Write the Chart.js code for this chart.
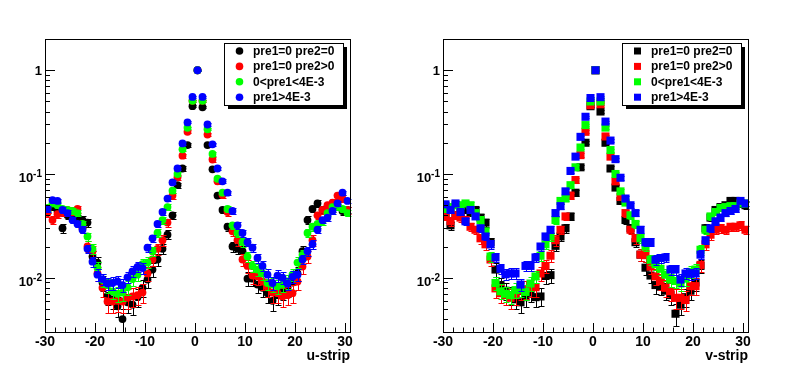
<!DOCTYPE html>
<html>
<head>
<meta charset="utf-8">
<script src="https://cdn.jsdelivr.net/npm/chart.js@4"></script>
<style>
  html, body { margin: 0; padding: 0; background: #fff; }
  #wrap { position: relative; width: 796px; height: 374px; }
  canvas { position: absolute; top: 0; }
</style>
</head>
<body>
<div id="wrap">
  <canvas id="uChart" width="398" height="374" style="left:0"></canvas>
  <canvas id="vChart" width="398" height="374" style="left:398px"></canvas>
</div>
<script>
// bin centres (strip number)
const strips = [
  -29.5, -28.5, -27.5, -26.5, -25.5, -24.5, -23.5, -22.5, -21.5, -20.5,
  -19.5, -18.5, -17.5, -16.5, -15.5, -14.5, -13.5, -12.5, -11.5, -10.5,
  -9.5, -8.5, -7.5, -6.5, -5.5, -4.5, -3.5, -2.5, -1.5, -0.5,
  0.5,
  1.5, 2.5, 3.5, 4.5, 5.5, 6.5, 7.5, 8.5, 9.5, 10.5,
  11.5, 12.5, 13.5, 14.5, 15.5, 16.5, 17.5, 18.5, 19.5, 20.5,
  21.5, 22.5, 23.5, 24.5, 25.5, 26.5, 27.5, 28.5, 29.5, 30.5
];

const seriesNames = ["pre1=0 pre2=0", "pre1=0 pre2>0", "0<pre1<4E-3", "pre1>4E-3"];
const seriesColors = ["#000000", "#ff0000", "#00ff00", "#0000ff"];
// rough counts behind each normalised histogram, used for the stat error bars
const peakCounts = [4000, 3500, 5000, 6000];

// u-strip
const uBlack = [
  0.045, 0.048, 0.044, 0.030, 0.040, 0.038, 0.037, 0.036, 0.034, 0.016,
  0.014, 0.009, 0.0067, 0.0062, 0.0053, 0.0040, 0.0058, 0.0055, 0.0065, 0.0080,
  0.0096, 0.012, 0.015, 0.019, 0.026, 0.040, 0.078, 0.113, 0.19, 0.45,
  1.0,
  0.44, 0.19, 0.111, 0.062, 0.045, 0.031, 0.020, 0.019, 0.018, 0.0098,
  0.0098, 0.0086, 0.0080, 0.0071, 0.0060, 0.0068, 0.0075, 0.0080, 0.0090, 0.011,
  0.018, 0.036, 0.046, 0.052, 0.045, 0.048, 0.046, 0.050, 0.044, 0.045
];
const uRed = [
  0.042, 0.036, 0.041, 0.043, 0.045, 0.044, 0.046, 0.030, 0.020, 0.018,
  0.011, 0.008, 0.0059, 0.0059, 0.0060, 0.0059, 0.0064, 0.0066, 0.0068, 0.0072,
  0.011, 0.015, 0.019, 0.023, 0.034, 0.062, 0.093, 0.15, 0.255, 0.507,
  1.0,
  0.507, 0.24, 0.138, 0.085, 0.063, 0.043, 0.028, 0.023, 0.015, 0.013,
  0.0105, 0.0103, 0.0092, 0.0081, 0.0072, 0.0071, 0.0066, 0.0068, 0.0071, 0.0092,
  0.0128, 0.016, 0.023, 0.040, 0.045, 0.050, 0.053, 0.062, 0.058, 0.045
];
const uGreen = [
  0.047, 0.052, 0.050, 0.046, 0.045, 0.044, 0.042, 0.033, 0.025, 0.019,
  0.0125, 0.0095, 0.0085, 0.0074, 0.0070, 0.0072, 0.0081, 0.0097, 0.0107, 0.0135,
  0.014, 0.018, 0.027, 0.036, 0.048, 0.069, 0.10, 0.173, 0.279, 0.507,
  1.0,
  0.507, 0.27, 0.156, 0.090, 0.066, 0.046, 0.032, 0.027, 0.022, 0.016,
  0.013, 0.012, 0.011, 0.0089, 0.0086, 0.0083, 0.0086, 0.0092, 0.0107, 0.014,
  0.0166, 0.027, 0.031, 0.033, 0.035, 0.042, 0.048, 0.048, 0.046, 0.042
];
const uBlue = [
  0.046, 0.056, 0.055, 0.045, 0.042, 0.036, 0.033, 0.029, 0.019, 0.0143,
  0.0107, 0.0097, 0.0088, 0.0089, 0.0092, 0.0085, 0.0101, 0.0115, 0.0127, 0.0124,
  0.0195, 0.024, 0.033, 0.043, 0.058, 0.083, 0.113, 0.197, 0.314, 0.553,
  1.0,
  0.553, 0.30, 0.193, 0.113, 0.085, 0.066, 0.044, 0.032, 0.027, 0.022,
  0.0195, 0.0155, 0.013, 0.0107, 0.0089, 0.0105, 0.010, 0.0088, 0.0102, 0.0107,
  0.015, 0.018, 0.021, 0.029, 0.036, 0.038, 0.044, 0.052, 0.066, 0.055
];

// v-strip
const vBlack = [
  0.042, 0.032, 0.040, 0.042, 0.045, 0.043, 0.045, 0.038, 0.034, 0.022,
  0.012, 0.0085, 0.0075, 0.0068, 0.0062, 0.0058, 0.0065, 0.0072, 0.0065, 0.0066,
  0.0104, 0.0106, 0.0203, 0.025, 0.030, 0.039, 0.066, 0.116, 0.20, 0.45,
  1.0,
  0.40, 0.20, 0.113, 0.074, 0.055, 0.036, 0.030, 0.022, 0.0167, 0.0125,
  0.0105, 0.0085, 0.0082, 0.0075, 0.0068, 0.0045, 0.0055, 0.0065, 0.0075, 0.009,
  0.013, 0.030, 0.038, 0.045, 0.048, 0.050, 0.055, 0.055, 0.052, 0.050
];
const vRed = [
  0.039, 0.035, 0.040, 0.038, 0.036, 0.031, 0.029, 0.024, 0.021, 0.015,
  0.0079, 0.0071, 0.0068, 0.0064, 0.0068, 0.0075, 0.0078, 0.0080, 0.0081, 0.011,
  0.013, 0.0163, 0.023, 0.029, 0.039, 0.062, 0.0875, 0.152, 0.255, 0.46,
  1.0,
  0.47, 0.23, 0.147, 0.085, 0.060, 0.042, 0.029, 0.024, 0.0167, 0.0165,
  0.0128, 0.0103, 0.0093, 0.0080, 0.0074, 0.0064, 0.0064, 0.0061, 0.0083, 0.0083,
  0.0133, 0.021, 0.026, 0.029, 0.030, 0.029, 0.031, 0.031, 0.032, 0.029
];
const vGreen = [
  0.046, 0.048, 0.050, 0.050, 0.052, 0.050, 0.042, 0.036, 0.028, 0.016,
  0.0089, 0.0074, 0.0070, 0.0068, 0.0076, 0.0078, 0.0073, 0.0088, 0.0103, 0.0163,
  0.021, 0.025, 0.036, 0.055, 0.058, 0.078, 0.116, 0.18, 0.296, 0.50,
  1.0,
  0.50, 0.28, 0.17, 0.10, 0.068, 0.053, 0.040, 0.033, 0.024, 0.020,
  0.0149, 0.0135, 0.0122, 0.0107, 0.0096, 0.0093, 0.0088, 0.0098, 0.0114, 0.012,
  0.0186, 0.029, 0.039, 0.043, 0.047, 0.048, 0.049, 0.049, 0.052, 0.052
];
const vBlue = [
  0.051, 0.045, 0.052, 0.043, 0.035, 0.045, 0.039, 0.030, 0.025, 0.021,
  0.0157, 0.0122, 0.0108, 0.011, 0.011, 0.0086, 0.013, 0.013, 0.0157, 0.020,
  0.025, 0.029, 0.042, 0.049, 0.068, 0.107, 0.147, 0.228, 0.356, 0.54,
  1.0,
  0.55, 0.32, 0.21, 0.139, 0.092, 0.058, 0.050, 0.042, 0.029, 0.022,
  0.022, 0.0149, 0.0155, 0.0157, 0.012, 0.012, 0.0096, 0.011, 0.0109, 0.011,
  0.0167, 0.023, 0.030, 0.035, 0.038, 0.042, 0.044, 0.046, 0.055, 0.052
];

// axis ticks and labels
const xRange = [-30, 31];
const yRange = [0.003, 2];
const xTickValues = [-30, -20, -10, 0, 10, 20, 30];
const xMinorStep = 2;
const yTickValues = [0.01, 0.1, 1];
const yTickLabels = [["10", "-2"], ["10", "-1"], ["1", ""]];

const FONT = '"Liberation Sans", Arial, Helvetica, sans-serif';

// draws the stat error bars of a dataset just before its markers
const errorBars = {
  id: "errorBars",
  beforeDatasetDraw(chart, args) {
    const ds = chart.data.datasets[args.index];
    const n = peakCounts[args.index];
    const y = chart.scales.y;
    const ctx = chart.ctx;
    ctx.save();
    ctx.strokeStyle = ds.backgroundColor;
    ctx.lineWidth = 1;
    ds.data.forEach((p, j) => {
      const err = Math.sqrt(p.y / n);
      const px = Math.round(args.meta.data[j].x) + 0.5;
      const top = Math.round(y.getPixelForValue(p.y + err)) + 0.5;
      const bot = Math.round(y.getPixelForValue(Math.max(p.y - err, 1e-4))) + 0.5;
      ctx.beginPath();
      ctx.moveTo(px, top);
      ctx.lineTo(px, bot);
      ctx.moveTo(px - 3, top);
      ctx.lineTo(px + 3, top);
      ctx.moveTo(px - 3, bot);
      ctx.lineTo(px + 3, bot);
      ctx.stroke();
    });
    ctx.restore();
  }
};

// ROOT-like frame, inward ticks, labels and legend box
const rootFrame = {
  id: "rootFrame",
  afterDraw(chart, args, opts) {
    const ctx = chart.ctx;
    const a = chart.chartArea;
    const x = chart.scales.x;
    const y = chart.scales.y;
    ctx.save();
    ctx.strokeStyle = "#000";
    ctx.fillStyle = "#000";
    ctx.lineWidth = 1;
    ctx.strokeRect(a.left + 0.5, a.top + 0.5, a.right - a.left, a.bottom - a.top);

    ctx.beginPath();
    for (let v = xRange[0]; v <= xRange[1]; v += xMinorStep) {
      const px = Math.round(x.getPixelForValue(v)) + 0.5;
      const len = v % 10 === 0 ? 9 : 4.5;
      ctx.moveTo(px, a.bottom);
      ctx.lineTo(px, a.bottom - len);
    }
    for (let d = -3; d <= 0; d++) {
      for (let m = 1; m <= 9; m++) {
        const v = m * Math.pow(10, d);
        if (v < yRange[0] || v > yRange[1]) continue;
        const py = Math.round(y.getPixelForValue(v)) + 0.5;
        ctx.moveTo(a.left, py);
        ctx.lineTo(a.left + (m === 1 ? 10 : 5), py);
      }
    }
    ctx.stroke();

    ctx.font = "bold 14px " + FONT;
    ctx.textAlign = "center";
    ctx.textBaseline = "alphabetic";
    xTickValues.forEach(v => {
      ctx.fillText(String(v), x.getPixelForValue(v), 346);
    });

    yTickValues.forEach((v, i) => {
      const py = y.getPixelForValue(v);
      const [base, sup] = yTickLabels[i];
      ctx.textAlign = "right";
      if (sup) {
        ctx.font = "bold 10px " + FONT;
        ctx.fillText(sup, 42, py + 3);
        const w = ctx.measureText(sup).width;
        ctx.font = "bold 13px " + FONT;
        ctx.fillText(base, 42 - w, py + 8);
      } else {
        ctx.font = "bold 13px " + FONT;
        ctx.fillText(base, 42, py + 5);
      }
    });

    ctx.font = "bold 14px " + FONT;
    ctx.textAlign = "right";
    ctx.fillText(opts.title, a.right, 360);

    // legend
    const lx = 224, ly = 43, lw = 119, lh = 62;
    ctx.fillRect(lx + 4, ly + 4, lw, lh);
    ctx.fillStyle = "#fff";
    ctx.fillRect(lx, ly, lw, lh);
    ctx.strokeRect(lx + 0.5, ly + 0.5, lw, lh);
    ctx.font = "bold 12px " + FONT;
    ctx.textAlign = "left";
    ctx.textBaseline = "middle";
    seriesNames.forEach((name, i) => {
      const ry = ly + 8 + i * 15.4;
      ctx.fillStyle = seriesColors[i];
      if (opts.square) {
        ctx.fillRect(lx + 12, ry - 3.5, 7, 7);
      } else {
        ctx.beginPath();
        ctx.arc(lx + 15.5, ry, 3.8, 0, Math.PI * 2);
        ctx.fill();
      }
      ctx.fillStyle = "#000";
      ctx.fillText(name, lx + 29, ry + 0.5);
    });
    ctx.restore();
  }
};

function makeChart(id, title, square, series) {
  const datasets = series.map((vals, i) => ({
    label: seriesNames[i],
    data: strips.map((s, j) => ({ x: s, y: vals[j] })),
    backgroundColor: seriesColors[i],
    borderColor: seriesColors[i],
    borderWidth: 0,
    pointStyle: square ? "rect" : "circle",
    pointRadius: square ? 5.7 : 3.9,
    showLine: false,
    order: series.length - 1 - i,
  }));

  return new Chart(document.getElementById(id), {
    type: "scatter",
    data: { datasets: datasets },
    options: {
      responsive: false,
      animation: false,
      devicePixelRatio: 1,
      layout: { padding: { left: 45, right: 48, top: 39, bottom: 42 } },
      plugins: {
        legend: { display: false },
        tooltip: { enabled: false },
        rootFrame: { title: title, square: square },
      },
      scales: {
        x: { type: "linear", min: xRange[0], max: xRange[1], display: false },
        y: { type: "logarithmic", min: yRange[0], max: yRange[1], display: false },
      },
    },
    plugins: [errorBars, rootFrame],
  });
}

makeChart("uChart", "u-strip", false, [uBlack, uRed, uGreen, uBlue]);
makeChart("vChart", "v-strip", true, [vBlack, vRed, vGreen, vBlue]);
</script>
</body>
</html>
